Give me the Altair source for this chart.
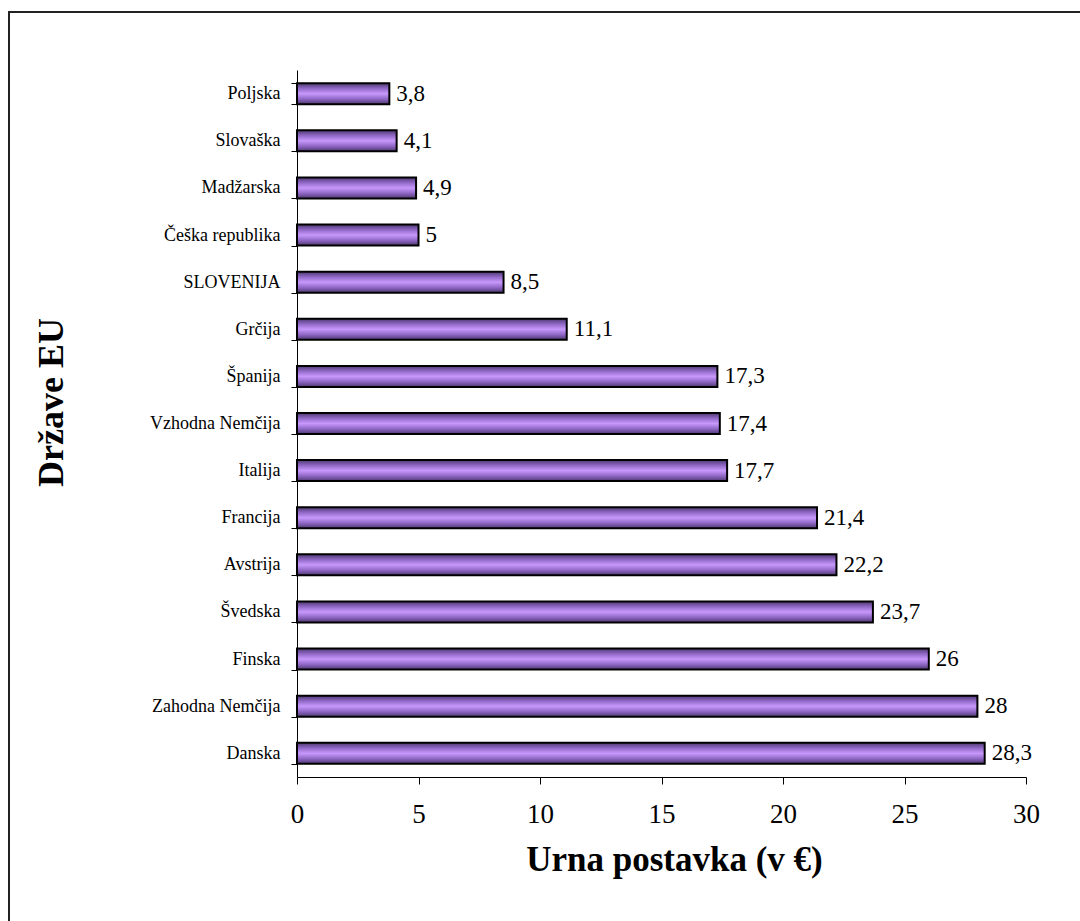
import altair as alt
import pandas as pd

# Hourly wage by EU country (EUR)
countries = [
    "Poljska", "Slovaška", "Madžarska", "Češka republika", "SLOVENIJA",
    "Grčija", "Španija", "Vzhodna Nemčija", "Italija", "Francija",
    "Avstrija", "Švedska", "Finska", "Zahodna Nemčija", "Danska",
]
wages = [3.8, 4.1, 4.9, 5.0, 8.5, 11.1, 17.3, 17.4, 17.7, 21.4, 22.2, 23.7, 26.0, 28.0, 28.3]
x_ticks = [0, 5, 10, 15, 20, 25, 30]

df = pd.DataFrame({"drzava": countries, "postavka": wages})

FONT = "Liberation Serif"
W, H = 729, 707
PAD_L, PAD_T, PAD_R, PAD_B = 297, 70, 54, 144

y_enc = alt.Y(
    "drzava:N",
    sort=countries,
    scale=alt.Scale(paddingInner=0.555, paddingOuter=0.28),
    axis=alt.Axis(
        title="Države EU",
        titleFont=FONT, titleFontSize=36, titleFontWeight="bold",
        titleColor="black",
        titleAngle=-90, titleX=-246, titleY=332, titleBaseline="middle",
        titleAlign="center",
        labelFont=FONT, labelFontSize=18, labelColor="black", labelPadding=11,
        tickBand="extent", tickSize=6, tickColor="black",
        domainColor="black", domainWidth=1,
    ),
)

bar_fill = alt.Gradient(
    gradient="linear",
    stops=[
        alt.GradientStop(color="#4e3870", offset=0),
        alt.GradientStop(color="#9068c6", offset=0.25),
        alt.GradientStop(color="#c898fc", offset=0.5),
        alt.GradientStop(color="#9068c6", offset=0.75),
        alt.GradientStop(color="#4e3870", offset=1),
    ],
    x1=0, x2=0, y1=0, y2=1,
)

bars = alt.Chart(df).mark_bar(
    fill=bar_fill, stroke="black", strokeWidth=2, size=21
).encode(
    x=alt.X(
        "postavka:Q",
        scale=alt.Scale(domain=[0, 30], nice=False),
        axis=alt.Axis(
            title="Urna postavka (v €)",
            titleFont=FONT, titleFontSize=35, titleFontWeight="bold",
            titleColor="black", titleX=377, titleY=82,
            titleBaseline="middle", titleAlign="center",
            values=x_ticks,
            labelFont=FONT, labelFontSize=27, labelColor="black", labelPadding=17,
            labelBaseline="top", labelFlush=False,
            tickSize=7, tickColor="black",
            domainColor="black", domainWidth=1, grid=False,
        ),
    ),
    y=y_enc,
)

labels = alt.Chart(df).transform_calculate(
    oznaka="replace(toString(datum.postavka), '.', ',')"
).mark_text(
    align="left", baseline="middle", dx=7, font=FONT, fontSize=23, color="black"
).encode(
    x="postavka:Q",
    y=alt.Y("drzava:N", sort=countries),
    text="oznaka:N",
)

# Frame around the whole figure
frame = alt.Chart(pd.DataFrame({"a": [0]})).mark_rect(
    fill=None, stroke="#222222", strokeWidth=2, clip=False
).encode(
    x=alt.value(9 - PAD_L),
    x2=alt.value(1080 - PAD_L + 10),
    y=alt.value(12 - PAD_T),
    y2=alt.value(921 - PAD_T + 10),
)

chart = alt.layer(frame, bars, labels).properties(
    width=W, height=H,
    autosize=alt.AutoSizeParams(type="none"),
    padding={"left": PAD_L, "top": PAD_T, "right": PAD_R, "bottom": PAD_B},
    background="white",
).configure_view(stroke=None)

chart.save("out.html", embed_options={"renderer": "svg", "actions": False})
